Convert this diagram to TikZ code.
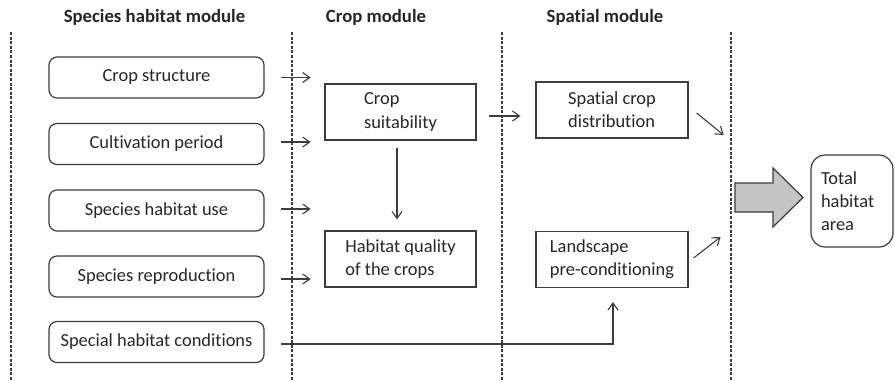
\documentclass[tikz,border=0pt]{standalone}
\usepackage{fontspec}
\setmainfont{Carlito}[Ligatures=NoCommon]
\usetikzlibrary{arrows.meta,calc}
\definecolor{ink}{HTML}{262626}
\definecolor{linec}{HTML}{3C3C3C}
\definecolor{bigfill}{HTML}{C4C4C4}
\begin{document}
\begin{tikzpicture}[x=1bp,y=-1bp,
  every node/.style={text=ink,font=\fontsize{18.5}{23}\selectfont},
  modline/.style={draw=linec,line width=1.4bp,dash pattern=on 3bp off 1.6bp},
  inbox/.style={draw=linec,line width=1.2bp,rounded corners=8bp,minimum width=215bp,minimum height=41bp,inner sep=0pt},
  sqbox/.style={draw=linec,line width=1.2bp,minimum width=151bp,minimum height=56bp,inner sep=0pt,align=left},
  arr/.style={draw=linec,line width=1.1bp,-{Straight Barb[length=7bp,width=10bp]}},
  hdr/.style={font=\fontsize{18.8}{22}\selectfont\bfseries}
]
\useasboundingbox (0,0) rectangle (895,380);
% module separators
\coordinate (d1t) at (11,32);  \coordinate (d1b) at (11,380);
\coordinate (d2t) at (292,32); \coordinate (d2b) at (292,380);
\coordinate (d3t) at (502,32); \coordinate (d3b) at (502,380);
\coordinate (d4t) at (731,32); \coordinate (d4b) at (731,380);
\draw[modline] (d1t) -- (d1b);
\draw[modline] (d2t) -- (d2b);
\draw[modline] (d3t) -- (d3b);
\draw[modline] (d4t) -- (d4b);
% headers
\node[hdr] (h1) at (154.5,17) {Species habitat module};
\node[hdr] (h2) at (376,17) {Crop module};
\node[hdr] (h3) at (605,17) {Spatial module};
% left boxes
\node[inbox] (cs) at (156.5,77.5) {Crop structure};
\node[inbox] (cp) at (156.5,144) {Cultivation period};
\node[inbox] (hu) at (156.5,210.5) {Species habitat use};
\node[inbox] (sr) at (156.5,276.5) {Species reproduction};
\node[inbox] (sh) at (156.5,342) {Special habitat conditions};
% crop module
\node[sqbox] (su) at (400.5,112) {Crop\\[1bp]suitability};
\node[sqbox] (hq) at (400.5,259) {Habitat quality\\of the crops};
% spatial module
\node[sqbox,minimum width=152bp] (sd) at (612,110) {Spatial crop\\distribution};
\node[sqbox,minimum width=152bp] (lp) at (612,259.5) {Landscape\\pre-conditioning};
% total
\node[draw=linec,line width=1.2bp,rounded corners=14bp,minimum width=82bp,minimum height=92bp,inner sep=0pt,align=left,text width=62bp] (ta) at (852,201) {Total\\habitat\\area};
% input arrows
\draw[arr] ([xshift=16bp]cs.east) -- ++(30,0);
\draw[arr] ([xshift=16bp,yshift=2bp]cp.east) -- ++(30,0);
\draw[arr] ([xshift=16bp,yshift=1.5bp]hu.east) -- ++(30,0);
\draw[arr] ([xshift=16bp,yshift=-2.5bp]sr.east) -- ++(30,0);
% crop suitability -> habitat quality
\draw[arr] ([xshift=-3.5bp,yshift=-7bp]su.south) -- ([xshift=-3.5bp,yshift=11bp]hq.north);
% crop suitability -> spatial distribution
\draw[arr] ([xshift=12bp,yshift=-4bp]su.east) -- ([xshift=-15bp,yshift=-4bp]su.east -| sd.west);
% diagonal arrows
\draw[arr] ([xshift=8bp,yshift=-3bp]sd.east) -- ([xshift=35bp,yshift=-25bp]sd.east);
\draw[arr] ([xshift=5bp,yshift=1.5bp]lp.east) -- ([xshift=32bp,yshift=22.5bp]lp.east);
% special habitat conditions -> landscape
\draw[arr] ([xshift=16bp,yshift=-2bp]sh.east) -| ([xshift=1bp,yshift=-14bp]lp.south);
% big arrow
\coordinate (ba) at (735,183);
\draw[draw=linec,fill=bigfill,line width=1.2bp,line join=miter]
  (ba) -- ++(38,0) -- ++(0,-15) -- ++(30,29.5) -- ++(-30,29.5) -- ++(0,-15) -- ++(-38,0) -- cycle;
\end{tikzpicture}
\end{document}
